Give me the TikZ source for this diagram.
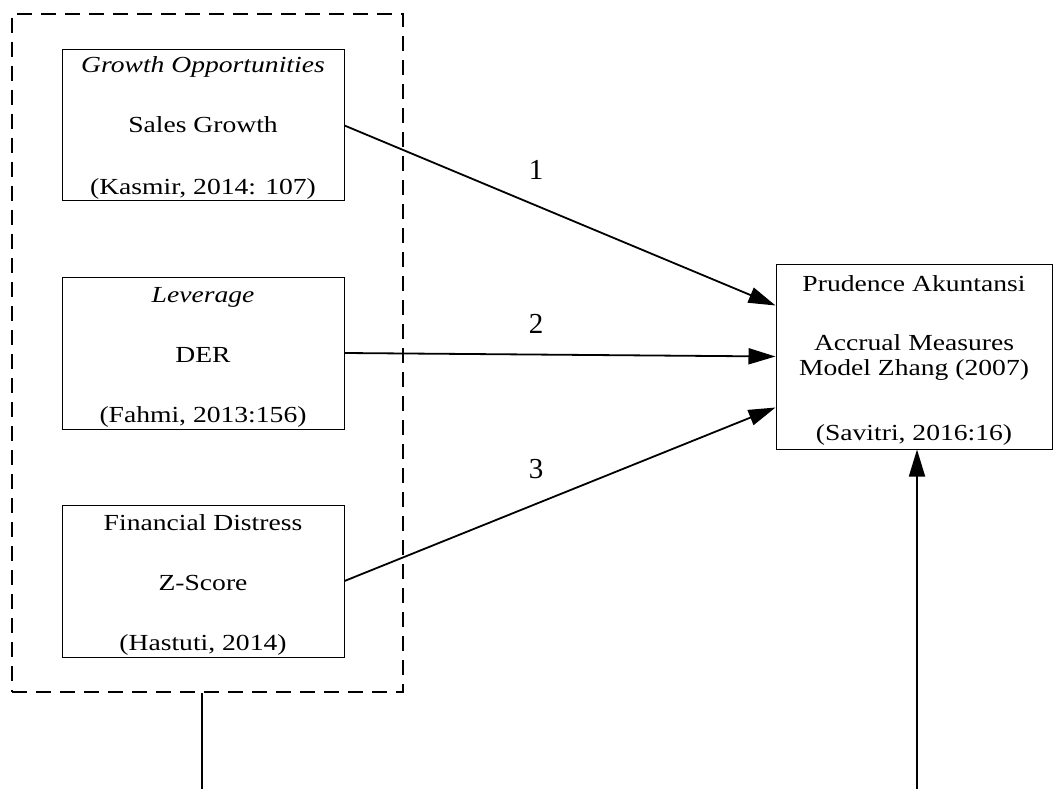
\documentclass[tikz,border=0pt]{standalone}
\usepackage{fontspec}
\setmainfont{Liberation Serif}[FakeStretch=1.2]
\newfontfamily\labfont{Liberation Serif}
\usetikzlibrary{arrows.meta,calc}
\begin{document}
\begin{tikzpicture}[x=1pt,y=-1pt,
  box/.style={draw,line width=1pt,rectangle,inner sep=0pt},
  txt/.style={anchor=base,inner sep=0pt,font=\fontsize{23}{27}\selectfont},
  lab/.style={anchor=base,inner sep=0pt,font=\labfont\fontsize{29}{33}\selectfont},
  conn/.style={line width=1.8pt,-{Triangle[length=27pt,width=16pt]}},
  plain/.style={line width=1.8pt}]
\useasboundingbox (0,0) rectangle (1053,789);
\fill[white] (0,0) rectangle (1053,789);
% dashed group
\node[draw,dashed,dash pattern=on 15pt off 9pt,line width=1.6pt,rectangle,inner sep=0pt,
  minimum width=391pt,minimum height=678pt] (grp) at (207.5,353) {};
% left boxes
\node[box,minimum width=282pt,minimum height=151pt] (b1) at (203,125.5) {};
\node[box,minimum width=282pt,minimum height=152pt] (b2) at (203,353) {};
\node[box,minimum width=282pt,minimum height=152pt] (b3) at (203,581) {};
\node[box,minimum width=276pt,minimum height=185pt] (t) at (914,356.5) {};
% texts
\node[txt] (b1a) at (203,73) {\itshape Growth Opportunities};
\node[txt] (b1b) at (203,133) {Sales Growth};
\node[txt] (b1c) at (203,194) {(Kasmir, 2014: 107)};
\node[txt] (b2a) at (203,302) {\itshape Leverage};
\node[txt] (b2b) at (203,362) {DER};
\node[txt] (b2c) at (203,422) {(Fahmi, 2013:156)};
\node[txt] (b3a) at (203,530) {Financial Distress};
\node[txt] (b3b) at (203,590) {Z-Score};
\node[txt] (b3c) at (203,650) {(Hastuti, 2014)};
\node[txt] (ta) at (914,291) {Prudence Akuntansi};
\node[txt] (tb) at (914,350) {Accrual Measures};
\node[txt] (tc) at (914,375) {Model Zhang (2007)};
\node[txt] (td) at (914,440) {(Savitri, 2016:16)};
% labels
\node[lab] (l1) at (536,179) {1};
\node[lab] (l2) at (536,333) {2};
\node[lab] (l3) at (536,478) {3};
% connectors
\coordinate (t1) at ($(t.west)+(0,-51)$);
\coordinate (t3) at ($(t.west)+(0,51)$);
\draw[conn] (b1.east) -- (t1);
\draw[conn] (b2.east) -- (t.west);
\draw[conn] (b3.east) -- (t3);
\coordinate (c1) at (202,789);
\coordinate (c2) at (917,789);
\draw[plain] (grp.south -| c1) -- (c1);
\draw[conn] (c2) -- (t.south -| c2);
\end{tikzpicture}
\end{document}
